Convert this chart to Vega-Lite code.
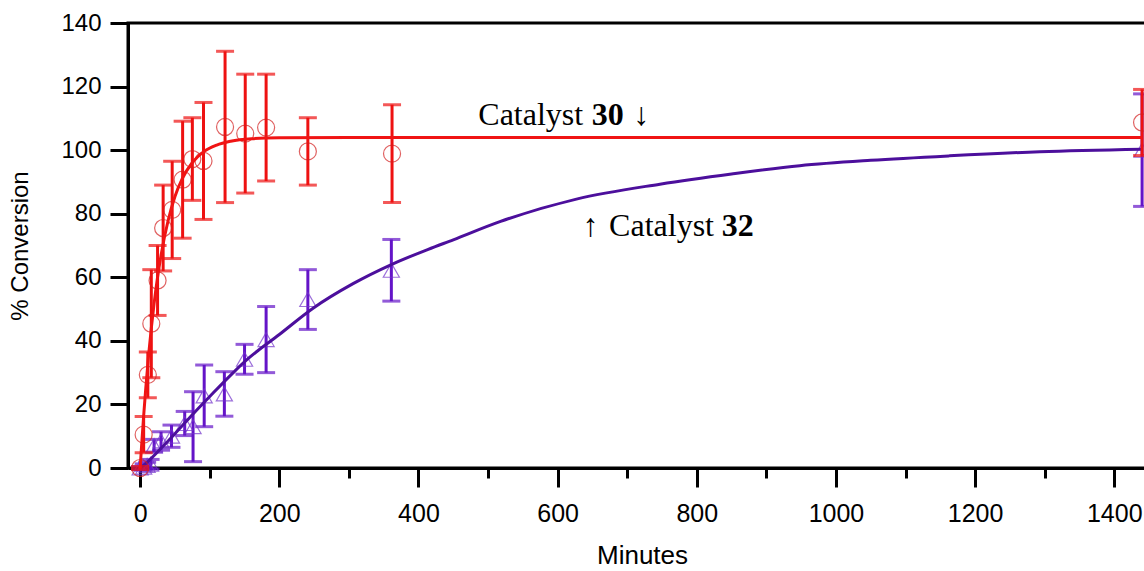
{
  "$schema": "https://vega.github.io/schema/vega-lite/v6.json",
  "autosize": "none",
  "padding": {"left": 128, "top": 23, "right": 0, "bottom": 103},
  "width": 1028,
  "height": 445,
  "background": "white",
  "config": {
    "view": {"stroke": "black", "strokeWidth": 3},
    "axis": {
      "labelFont": "Liberation Sans",
      "titleFont": "Liberation Sans",
      "labelFontSize": 24,
      "titleFontSize": 24,
      "titleFontWeight": "normal",
      "labelColor": "black",
      "titleColor": "black",
      "domainColor": "black",
      "tickColor": "black",
      "domainWidth": 3,
      "tickWidth": 3,
      "grid": false
    }
  },
  "resolve": {"axis": {"x": "independent", "y": "independent"}},
  "datasets": {
    "points": [
      {"series": "30", "t": 0, "v": 0, "err": 0.5},
      {"series": "30", "t": 5, "v": 10.5, "err": 5.7},
      {"series": "30", "t": 11, "v": 29.3, "err": 7.2},
      {"series": "30", "t": 16, "v": 45.4, "err": 17},
      {"series": "30", "t": 25, "v": 59, "err": 11},
      {"series": "30", "t": 33, "v": 75.5, "err": 13.5},
      {"series": "30", "t": 46, "v": 81.2, "err": 15.3},
      {"series": "30", "t": 61, "v": 90.7, "err": 18.4},
      {"series": "30", "t": 75, "v": 97.2, "err": 13},
      {"series": "30", "t": 91, "v": 96.6, "err": 18.4},
      {"series": "30", "t": 122, "v": 107.3, "err": 23.8},
      {"series": "30", "t": 151, "v": 105.2, "err": 18.7},
      {"series": "30", "t": 181, "v": 107.1, "err": 16.8},
      {"series": "30", "t": 241, "v": 99.6, "err": 10.6},
      {"series": "30", "t": 362, "v": 98.9, "err": 15.4},
      {"series": "30", "t": 1440, "v": 108.7, "err": 10.4},
      {"series": "32", "t": 0, "v": 0, "err": 0.5},
      {"series": "32", "t": 5, "v": 0.3, "err": 1},
      {"series": "32", "t": 10, "v": 0.8, "err": 1},
      {"series": "32", "t": 15, "v": 1.2, "err": 1.5},
      {"series": "32", "t": 20, "v": 7, "err": 2},
      {"series": "32", "t": 30, "v": 8.5, "err": 2.9},
      {"series": "32", "t": 45, "v": 10, "err": 3.5},
      {"series": "32", "t": 64, "v": 14, "err": 3.8},
      {"series": "32", "t": 76, "v": 13, "err": 11},
      {"series": "32", "t": 92, "v": 22.7, "err": 9.7},
      {"series": "32", "t": 121, "v": 23.3, "err": 7},
      {"series": "32", "t": 150, "v": 34.2, "err": 4.7},
      {"series": "32", "t": 181, "v": 40.4, "err": 10.4},
      {"series": "32", "t": 241, "v": 53, "err": 9.4},
      {"series": "32", "t": 361, "v": 62.2, "err": 9.7},
      {"series": "32", "t": 1440, "v": 100, "err": 17.7}
    ],
    "curves": [
      {"series": "30", "t": 0, "v": 0},
      {"series": "30", "t": 2, "v": 6.9},
      {"series": "30", "t": 5, "v": 16.4},
      {"series": "30", "t": 8, "v": 25},
      {"series": "30", "t": 12, "v": 35.2},
      {"series": "30", "t": 16, "v": 44},
      {"series": "30", "t": 20, "v": 51.7},
      {"series": "30", "t": 25, "v": 60},
      {"series": "30", "t": 30, "v": 66.9},
      {"series": "30", "t": 40, "v": 77.7},
      {"series": "30", "t": 50, "v": 85.4},
      {"series": "30", "t": 60, "v": 90.8},
      {"series": "30", "t": 75, "v": 96.1},
      {"series": "30", "t": 90, "v": 99.3},
      {"series": "30", "t": 110, "v": 101.6},
      {"series": "30", "t": 130, "v": 102.8},
      {"series": "30", "t": 160, "v": 103.6},
      {"series": "30", "t": 200, "v": 103.9},
      {"series": "30", "t": 300, "v": 104},
      {"series": "30", "t": 1440, "v": 104},
      {"series": "32", "t": 0, "v": 0},
      {"series": "32", "t": 10, "v": 1.8},
      {"series": "32", "t": 30, "v": 6.2},
      {"series": "32", "t": 50, "v": 10.8},
      {"series": "32", "t": 76, "v": 17},
      {"series": "32", "t": 100, "v": 22.5},
      {"series": "32", "t": 136, "v": 30.5},
      {"series": "32", "t": 153, "v": 34},
      {"series": "32", "t": 200, "v": 42},
      {"series": "32", "t": 248, "v": 50.2},
      {"series": "32", "t": 306, "v": 58},
      {"series": "32", "t": 361, "v": 64},
      {"series": "32", "t": 414, "v": 68.8},
      {"series": "32", "t": 450, "v": 71.8},
      {"series": "32", "t": 517, "v": 77.5},
      {"series": "32", "t": 627, "v": 84.6},
      {"series": "32", "t": 747, "v": 89.3},
      {"series": "32", "t": 850, "v": 92.5},
      {"series": "32", "t": 948, "v": 95.1},
      {"series": "32", "t": 1050, "v": 96.8},
      {"series": "32", "t": 1163, "v": 98.2},
      {"series": "32", "t": 1293, "v": 99.5},
      {"series": "32", "t": 1440, "v": 100.3}
    ],
    "notes": [
      {"part": "name", "label": "Catalyst", "t": 486, "v": 107.9},
      {"part": "num", "label": "30", "t": 649, "v": 107.9},
      {"part": "arrow", "label": "↓", "t": 709, "v": 107.9},
      {"part": "arrow", "label": "↑", "t": 636, "v": 73},
      {"part": "name", "label": "Catalyst", "t": 674, "v": 73},
      {"part": "num", "label": "32", "t": 836, "v": 73}
    ]
  },
  "encoding": {
    "x": {"field": "t", "type": "quantitative", "title": "Minutes", "axis": null, "scale": {"domain": [-17.5, 1460], "nice": false, "zero": false}},
    "y": {"field": "v", "type": "quantitative", "title": "% Conversion", "axis": null, "scale": {"domain": [0, 140], "nice": false}}
  },
  "layer": [
    {
      "data": {"name": "points"},
      "mark": {"type": "rule", "opacity": 0},
      "encoding": {
        "x": {"field": "t", "type": "quantitative", "scale": {"domain": [-17.5, 1460], "nice": false, "zero": false}, "axis": {"orient": "bottom", "values": [0, 200, 400, 600, 800, 1000, 1200, 1400], "format": "d", "tickSize": 19, "labelPadding": 14, "labelFontSize": 25, "title": "Minutes", "titleFontSize": 26, "titlePadding": 16, "labelFlush": false}},
        "y": {"field": "v", "type": "quantitative", "scale": {"domain": [0, 140], "nice": false}, "axis": {"orient": "left", "values": [0, 20, 40, 60, 80, 100, 120, 140], "format": "d", "tickSize": 18, "labelPadding": 9, "title": "% Conversion", "titlePadding": 28, "labelFlush": false}}
      }
    },
    {
      "data": {"name": "points"},
      "mark": {"type": "rule", "opacity": 0},
      "encoding": {
        "x": {"field": "t", "type": "quantitative", "scale": {"domain": [-17.5, 1460], "nice": false, "zero": false}, "axis": {"orient": "bottom", "values": [100, 300, 500, 700, 900, 1100, 1300], "tickSize": 10, "labels": false, "title": null, "domain": false}}
      }
    },
    {
      "data": {"name": "points"},
      "transform": [{"filter": "datum.series === '32'"}],
      "mark": {"type": "errorbar", "color": "#6414c8", "ticks": {"size": 18, "thickness": 3, "color": "#6414c8"}, "rule": {"strokeWidth": 3}},
      "encoding": {
        "yError": {"field": "err"}
      }
    },
    {
      "data": {"name": "points"},
      "transform": [{"filter": "datum.series === '32'"}],
      "mark": {"type": "point", "shape": "triangle-up", "filled": false, "size": 260, "strokeWidth": 1.2, "color": "#7434cc"}
    },
    {
      "data": {"name": "curves"},
      "transform": [{"filter": "datum.series === '32'"}],
      "mark": {"type": "line", "interpolate": "monotone", "color": "#4c0f9c", "strokeWidth": 3}
    },
    {
      "data": {"name": "points"},
      "transform": [{"filter": "datum.series === '30'"}],
      "mark": {"type": "errorbar", "color": "#ee1111", "ticks": {"size": 18, "thickness": 3, "color": "#ee1111"}, "rule": {"strokeWidth": 3}},
      "encoding": {
        "yError": {"field": "err"}
      }
    },
    {
      "data": {"name": "points"},
      "transform": [{"filter": "datum.series === '30'"}],
      "mark": {"type": "point", "shape": "circle", "filled": false, "size": 290, "strokeWidth": 1.2, "color": "#d42020"}
    },
    {
      "data": {"name": "curves"},
      "transform": [{"filter": "datum.series === '30'"}],
      "mark": {"type": "line", "interpolate": "monotone", "color": "#f01414", "strokeWidth": 3}
    },
    {
      "data": {"name": "notes"},
      "transform": [{"filter": "datum.part !== 'num'"}],
      "mark": {"type": "text", "align": "left", "baseline": "alphabetic", "font": "Liberation Serif", "fontSize": 32, "color": "black"},
      "encoding": {"text": {"field": "label"}}
    },
    {
      "data": {"name": "notes"},
      "transform": [{"filter": "datum.part === 'num'"}],
      "mark": {"type": "text", "align": "left", "baseline": "alphabetic", "font": "Liberation Serif", "fontSize": 32, "fontWeight": "bold", "color": "black"},
      "encoding": {"text": {"field": "label"}}
    }
  ]
}
